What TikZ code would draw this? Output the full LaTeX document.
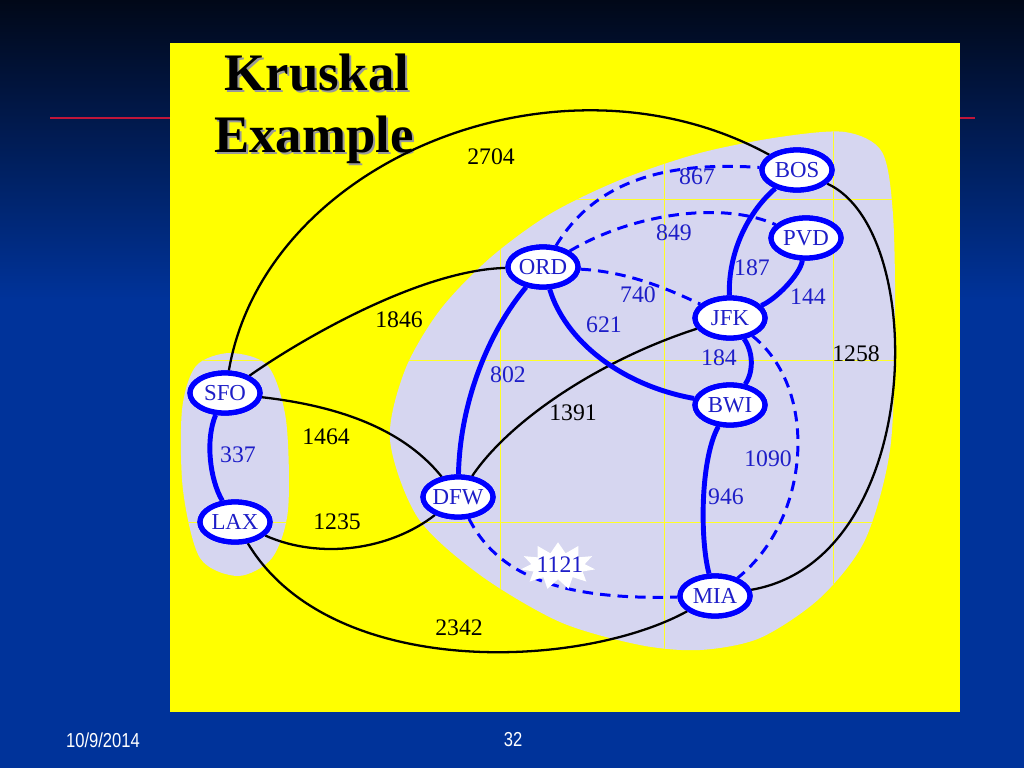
\documentclass[tikz,border=0pt]{standalone}
\usepackage{fontspec}
\setmainfont{Liberation Serif}
\newfontfamily\narrowsans[FakeStretch=0.82]{Liberation Sans}
\usepackage{tikz}
\usetikzlibrary{shapes.geometric,shapes.symbols}
\definecolor{navytop}{HTML}{010818}
\definecolor{slideblue}{HTML}{00339A}
\definecolor{padyellow}{HTML}{FFFF00}
\definecolor{regiongray}{HTML}{D6D6F0}
\definecolor{treeblue}{HTML}{0000FF}
\definecolor{labelblue}{HTML}{1E1EC8}
\definecolor{rulered}{HTML}{C0163A}

\begin{document}
\begin{tikzpicture}[x=0.02cm, y=0.02cm,
  city/.style={ellipse, draw=treeblue, line width=3pt, fill=white, text=labelblue, font=\fontsize{13}{15}\selectfont, inner xsep=-2pt, inner ysep=-1pt, minimum width=1.4cm, minimum height=0.8cm},
  mst/.style={treeblue, line width=2.8pt},
  cut/.style={treeblue, line width=1.7pt, dash pattern=on 6pt off 4pt},
  road/.style={black, line width=1.3pt},
  wt/.style={text=labelblue, font=\fontsize{13.5}{15}\selectfont, inner sep=1pt},
  bwt/.style={wt, text=black},
  yline/.style={padyellow!85!white, line width=0.4pt},
  ttl/.style={font=\fontsize{30}{32}\selectfont\bfseries, anchor=base},
  foot/.style={text=white, font=\narrowsans\fontsize{11.5}{12}\selectfont}]
\useasboundingbox (0,0) rectangle (1024,-768);
% slide background
\fill[slideblue] (0,0) rectangle (1024,-768);
\shade[top color=navytop, bottom color=slideblue] (0,0) rectangle (1024,-300);
\draw[rulered, line width=0.6pt] (50,-118) -- (975,-118);
\fill[padyellow] (170,-43) rectangle (960,-712);
% shaded regions
\begin{scope}
  \clip plot[smooth cycle] coordinates {(230,-353) (268,-366) (286,-420) (288,-510) (272,-558) (238,-576) (200,-558) (183,-490) (182,-410) (196,-366)};
  \fill[regiongray] (170,-340) rectangle (300,-590);
  \draw[yline] (170,-360) -- (300,-360) (170,-522) -- (300,-522);
\end{scope}
\begin{scope}
  \clip plot[smooth cycle] coordinates {(845,-132) (882,-152) (893,-215) (895,-330) (890,-450) (865,-540) (820,-598) (760,-638) (700,-650) (640,-645) (560,-622) (480,-575) (418,-518) (390,-440) (405,-370) (440,-310) (490,-258) (550,-214) (620,-180) (700,-153) (780,-137)};
  \fill[regiongray] (380,-120) rectangle (910,-660);
  \draw[yline] (500,-120) -- (500,-660) (664,-120) -- (664,-660) (833,-120) -- (833,-660);
  \draw[yline] (380,-199) -- (910,-199) (380,-360) -- (910,-360) (380,-522) -- (910,-522);
\end{scope}
% title
\node[ttl, text=black!40] (titleas) at (319,-92) {Kruskal};
\node[ttl] (titlea) at (317,-90) {Kruskal};
\node[ttl, text=black!40] (titlebs) at (316,-154) {Example};
\node[ttl] (titleb) at (314,-152) {Example};
% cities
\node[city] (bos) at (797,-170) {BOS};
\node[city] (pvd) at (806,-238) {PVD};
\node[city] (ord) at (543,-267) {ORD};
\node[city] (jfk) at (730,-318) {JFK};
\node[city] (bwi) at (730,-405) {BWI};
\node[city] (sfo) at (225,-393) {SFO};
\node[city] (lax) at (235,-522) {LAX};
\node[city] (dfw) at (458,-497) {DFW};
\node[city] (mia) at (715,-596) {MIA};
% other roads
\draw[road] (sfo) .. controls (265,-160) and (560,-40) .. (bos);
\draw[road] (sfo) .. controls (300,-340) and (420,-270) .. (ord);
\draw[road] (sfo) .. controls (330,-405) and (400,-425) .. (dfw);
\draw[road] (lax) .. controls (320,-560) and (390,-550) .. (dfw);
\draw[road] (lax) .. controls (330,-680) and (580,-670) .. (mia);
\draw[road] (bos) .. controls (930,-230) and (925,-560) .. (mia);
\draw[road] (dfw) .. controls (510,-420) and (600,-360) .. (jfk);
% rejected edges
\draw[cut] (ord) .. controls (590,-190) and (650,-160) .. (bos);
\draw[cut] (ord) .. controls (630,-215) and (720,-200) .. (pvd);
\draw[cut] (ord) .. controls (630,-272) and (670,-290) .. (jfk);
\draw[cut] (jfk) .. controls (820,-390) and (810,-520) .. (mia);
\draw[cut] (dfw) .. controls (500,-580) and (570,-600) .. (mia);
% spanning tree
\draw[mst] (sfo) .. controls (205,-440) and (210,-480) .. (lax);
\draw[mst] (ord) .. controls (490,-330) and (460,-400) .. (dfw);
\draw[mst] (ord) .. controls (565,-340) and (620,-385) .. (bwi);
\draw[mst] (jfk) .. controls (728,-250) and (750,-210) .. (bos);
\draw[mst] (jfk) .. controls (775,-300) and (800,-275) .. (pvd);
\draw[mst] (jfk) .. controls (755,-355) and (752,-375) .. (bwi);
\draw[mst] (bwi) .. controls (700,-460) and (700,-540) .. (mia);
% redraw cities on top
\node[city] at (bos) {BOS};
\node[city] at (pvd) {PVD};
\node[city] at (ord) {ORD};
\node[city] at (jfk) {JFK};
\node[city] at (bwi) {BWI};
\node[city] at (sfo) {SFO};
\node[city] at (lax) {LAX};
\node[city] at (dfw) {DFW};
\node[city] at (mia) {MIA};
% weights
\node[bwt] (w2704) at (491,-157) {2704};
\node[wt] (w867) at (697,-177) {867};
\node[wt] (w849) at (674,-233) {849};
\node[wt] (w187) at (752,-268) {187};
\node[wt] (w144) at (808,-297) {144};
\node[wt] (w740) at (638,-295) {740};
\node[wt] (w621) at (604,-325) {621};
\node[bwt] (w1846) at (399,-320) {1846};
\node[wt] (w184) at (719,-358) {184};
\node[bwt] (w1258) at (856,-354) {1258};
\node[wt] (w802) at (508,-375) {802};
\node[bwt] (w1391) at (573,-413) {1391};
\node[bwt] (w1464) at (326,-437) {1464};
\node[wt] (w337) at (238,-455) {337};
\node[wt] (w1090) at (768,-459) {1090};
\node[wt] (w946) at (726,-497) {946};
\node[bwt] (w1235) at (337,-522) {1235};
\node[starburst, fill=white, starburst points=11, starburst point height=6pt, random starburst=0, minimum width=1.5cm, minimum height=0.95cm] (burst) at (558,-566) {};
\node[wt] (w1121) at (560,-565) {1121};
\node[bwt] (w2342) at (459,-628) {2342};
% footer
\node[foot] (date) at (103,-740) {10/9/2014};
\node[foot] (page) at (513,-740) {32};
\end{tikzpicture}
\end{document}
